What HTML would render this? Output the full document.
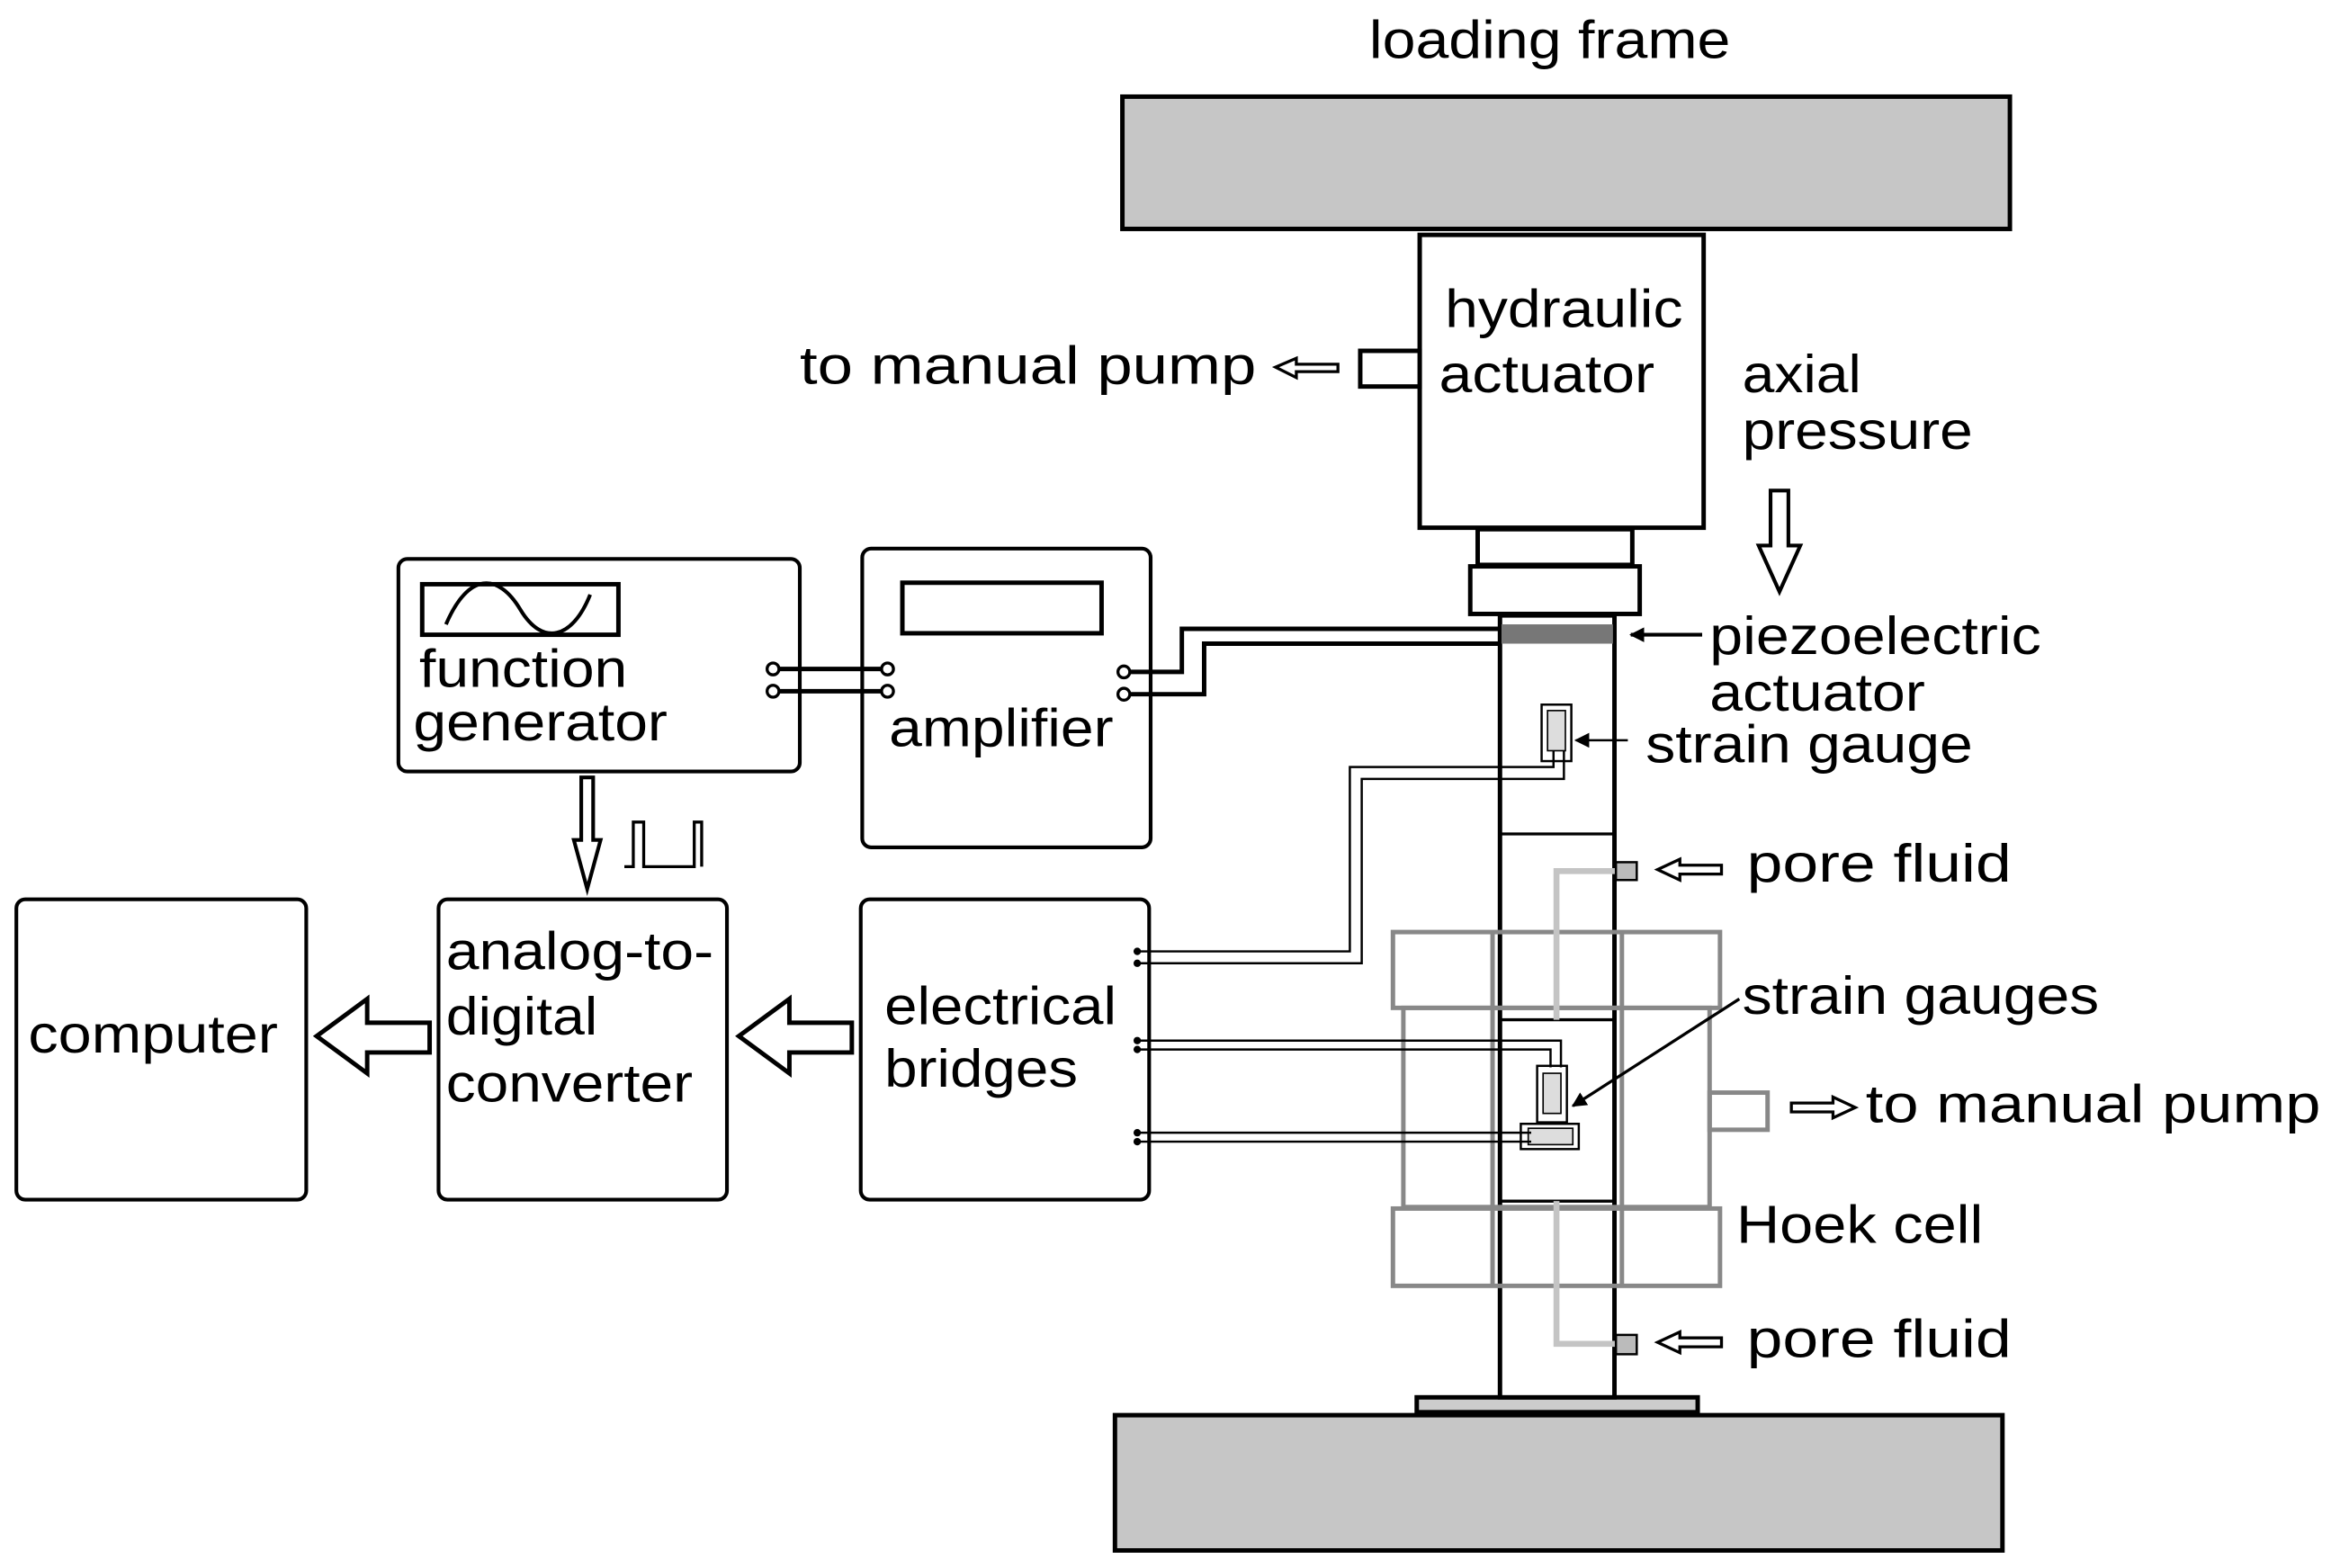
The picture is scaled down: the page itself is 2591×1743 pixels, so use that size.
<!DOCTYPE html>
<html><head><meta charset="utf-8"><style>
html,body{margin:0;padding:0;background:#fff;}
svg{display:block;}
text{font-family:"Liberation Sans",sans-serif;fill:#000;}
</style></head><body>
<svg width="2591" height="1743" viewBox="0 0 1568 1054.8" xmlns="http://www.w3.org/2000/svg">
<defs>
<marker id="ah" markerWidth="10" markerHeight="10" refX="9" refY="5" orient="auto" markerUnits="userSpaceOnUse"><path d="M0,0 L10,5 L0,10 z" fill="#000"/></marker>
</defs>

<!-- frames -->
<rect x="755" y="65" width="597" height="89" fill="#c6c6c6" stroke="#000" stroke-width="3"/>
<rect x="750" y="952" width="597" height="91" fill="#c6c6c6" stroke="#000" stroke-width="3"/>
<rect x="953" y="940" width="189" height="10" fill="#ccc" stroke="#000" stroke-width="3"/>

<!-- actuator -->
<rect x="955" y="158" width="191" height="197" fill="#fff" stroke="#000" stroke-width="3"/>
<rect x="915" y="236" width="40" height="24" fill="#fff" stroke="#000" stroke-width="3"/>
<path d="M858,247 L872,241 L872,245 L900,245 L900,250 L872,250 L872,254 z" fill="#fff" stroke="#000" stroke-width="2"/>
<path d="M1191,330 L1203,330 L1203,367 L1211,367 L1197,398 L1183,367 L1191,367 z" fill="#fff" stroke="#000" stroke-width="2.5"/>
<rect x="994" y="356" width="104" height="24" fill="#fff" stroke="#000" stroke-width="3"/>
<rect x="989" y="381" width="114" height="32" fill="#fff" stroke="#000" stroke-width="3"/>

<!-- column -->
<rect x="1009" y="414" width="77" height="526" fill="#fff" stroke="#000" stroke-width="3"/>
<rect x="1010" y="420" width="75" height="13" fill="#777"/>
<line x1="1009" y1="561" x2="1086" y2="561" stroke="#000" stroke-width="2"/>
<line x1="1009" y1="686" x2="1086" y2="686" stroke="#000" stroke-width="2"/>
<line x1="1009" y1="808" x2="1086" y2="808" stroke="#000" stroke-width="2"/>
<line x1="1145" y1="427" x2="1097" y2="427" stroke="#000" stroke-width="2.5" marker-end="url(#ah)"/>

<!-- Hoek cell -->
<g fill="none" stroke="#888" stroke-width="3">
<rect x="937" y="627" width="220" height="51"/>
<rect x="944" y="678" width="206" height="134"/>
<rect x="937" y="813" width="220" height="52"/>
<rect x="1150" y="735" width="39" height="25"/>
<line x1="1004" y1="627" x2="1004" y2="865"/>
<line x1="1091" y1="627" x2="1091" y2="865"/>
</g>
<g fill="none" stroke="#c4c4c4" stroke-width="4">
<polyline points="1090,586 1047,586 1047,686"/>
<polyline points="1047,808 1047,904 1090,904"/>
</g>
<rect x="1087" y="580" width="14" height="12" fill="#bbb" stroke="#000" stroke-width="1.5"/>
<rect x="1087" y="898" width="14" height="13" fill="#bbb" stroke="#000" stroke-width="1.5"/>
<path d="M1115,585 L1130,578 L1130,582 L1158,582 L1158,588 L1130,588 L1130,592 z" fill="#fff" stroke="#000" stroke-width="2"/>
<path d="M1115,903 L1130,896 L1130,900 L1158,900 L1158,906 L1130,906 L1130,910 z" fill="#fff" stroke="#000" stroke-width="2"/>
<path d="M1248,745 L1233,738 L1233,742 L1205,742 L1205,748 L1233,748 L1233,752 z" fill="#fff" stroke="#000" stroke-width="2"/>

<!-- strain gauges -->
<rect x="1037" y="474" width="20" height="38" fill="#fff" stroke="#000" stroke-width="1.5"/>
<rect x="1041" y="478" width="12" height="27" fill="#ddd" stroke="#000" stroke-width="1"/>
<line x1="1095" y1="498" x2="1060" y2="498" stroke="#000" stroke-width="1.5" marker-end="url(#ah)"/>
<rect x="1034" y="717" width="20" height="38" fill="#fff" stroke="#000" stroke-width="1.5"/>
<rect x="1038" y="722" width="12" height="27" fill="#ddd" stroke="#000" stroke-width="1"/>
<rect x="1023" y="756" width="39" height="17" fill="#fff" stroke="#000" stroke-width="1.5"/>
<rect x="1028" y="759" width="30" height="11" fill="#ddd" stroke="#000" stroke-width="1"/>
<line x1="1170" y1="672" x2="1058" y2="744" stroke="#000" stroke-width="2" marker-end="url(#ah)"/>

<!-- wires to bridges -->
<g fill="none" stroke="#000" stroke-width="1.5">
<polyline points="765,640 908,640 908,516 1045,516 1045,505"/>
<polyline points="765,648 916,648 916,524 1052,524 1052,505"/>
<polyline points="765,700 1050,700 1050,718"/>
<polyline points="765,706 1043,706 1043,718"/>
<polyline points="765,762 1030,762"/>
<polyline points="765,768 1030,768"/>
</g>
<g fill="#000"><circle cx="765" cy="640" r="2.5"/><circle cx="765" cy="648" r="2.5"/><circle cx="765" cy="700" r="2.5"/><circle cx="765" cy="706" r="2.5"/><circle cx="765" cy="762" r="2.5"/><circle cx="765" cy="768" r="2.5"/></g>

<!-- boxes -->
<g fill="none" stroke="#000" stroke-width="2.5">
<rect x="268" y="376" width="270" height="143" rx="6"/>
<rect x="284" y="393" width="132" height="34" stroke-width="3"/>
<path d="M300,420 C315,385 335,385 350,410 C365,435 385,430 397,400"/>
<rect x="580" y="369" width="194" height="201" rx="6"/>
<rect x="607" y="392" width="134" height="34" stroke-width="3"/>
<rect x="11" y="605" width="195" height="202" rx="6"/>
<rect x="295" y="605" width="194" height="202" rx="6"/>
<rect x="579" y="605" width="194" height="202" rx="6"/>
</g>
<!-- terminals -->
<g stroke="#000" stroke-width="3" fill="none">
<line x1="520" y1="450" x2="597" y2="450"/>
<line x1="520" y1="465" x2="597" y2="465"/>
<polyline points="756,452 795,452 795,423 1009,423"/>
<polyline points="756,467 810,467 810,433 1009,433"/>
</g>
<g fill="#fff" stroke="#000" stroke-width="2">
<circle cx="520" cy="450" r="4"/><circle cx="520" cy="465" r="4"/>
<circle cx="597" cy="450" r="4"/><circle cx="597" cy="465" r="4"/>
<circle cx="756" cy="452" r="4"/><circle cx="756" cy="467" r="4"/>
</g>
<!-- arrows -->
<path d="M391,523 L399,523 L399,565 L404,565 L395,598 L386,565 L391,565 z" fill="#fff" stroke="#000" stroke-width="2.5"/>
<polyline points="420,583 426,583 426,553 433,553 433,583 467,583 467,553 472,553 472,583" fill="none" stroke="#000" stroke-width="2"/>
<path d="M213,697 L247,672 L247,688 L289,688 L289,708 L247,708 L247,722 z" fill="#fff" stroke="#000" stroke-width="3"/>
<path d="M497,697 L531,672 L531,688 L573,688 L573,708 L531,708 L531,722 z" fill="#fff" stroke="#000" stroke-width="3"/>

<g font-size="36">
<text x="921" y="39" textLength="243" lengthAdjust="spacingAndGlyphs">loading frame</text>
<text x="972" y="220" textLength="160" lengthAdjust="spacingAndGlyphs">hydraulic</text>
<text x="968" y="264" textLength="145" lengthAdjust="spacingAndGlyphs">actuator</text>
<text x="538" y="258" textLength="307" lengthAdjust="spacingAndGlyphs">to manual pump</text>
<text x="1172" y="264" textLength="80" lengthAdjust="spacingAndGlyphs">axial</text>
<text x="1172" y="302" textLength="155" lengthAdjust="spacingAndGlyphs">pressure</text>
<text x="1150" y="440" textLength="223" lengthAdjust="spacingAndGlyphs">piezoelectric</text>
<text x="1150" y="478" textLength="145" lengthAdjust="spacingAndGlyphs">actuator</text>
<text x="1107" y="513" textLength="220" lengthAdjust="spacingAndGlyphs">strain gauge</text>
<text x="1175" y="593" textLength="178" lengthAdjust="spacingAndGlyphs">pore fluid</text>
<text x="1172" y="682" textLength="240" lengthAdjust="spacingAndGlyphs">strain gauges</text>
<text x="1255" y="755" textLength="306" lengthAdjust="spacingAndGlyphs">to manual pump</text>
<text x="1168" y="836" textLength="166" lengthAdjust="spacingAndGlyphs">Hoek cell</text>
<text x="1175" y="913" textLength="178" lengthAdjust="spacingAndGlyphs">pore fluid</text>
<text x="282" y="462" textLength="140" lengthAdjust="spacingAndGlyphs">function</text>
<text x="278" y="498" textLength="171" lengthAdjust="spacingAndGlyphs">generator</text>
<text x="598" y="502" textLength="151" lengthAdjust="spacingAndGlyphs">amplifier</text>
<text x="19" y="708" textLength="168" lengthAdjust="spacingAndGlyphs">computer</text>
<text x="300" y="652" textLength="180" lengthAdjust="spacingAndGlyphs">analog-to-</text>
<text x="300" y="696" textLength="102" lengthAdjust="spacingAndGlyphs">digital</text>
<text x="300" y="741" textLength="166" lengthAdjust="spacingAndGlyphs">converter</text>
<text x="595" y="689" textLength="156" lengthAdjust="spacingAndGlyphs">electrical</text>
<text x="595" y="731" textLength="130" lengthAdjust="spacingAndGlyphs">bridges</text>
</g>
</svg>
</body></html>
